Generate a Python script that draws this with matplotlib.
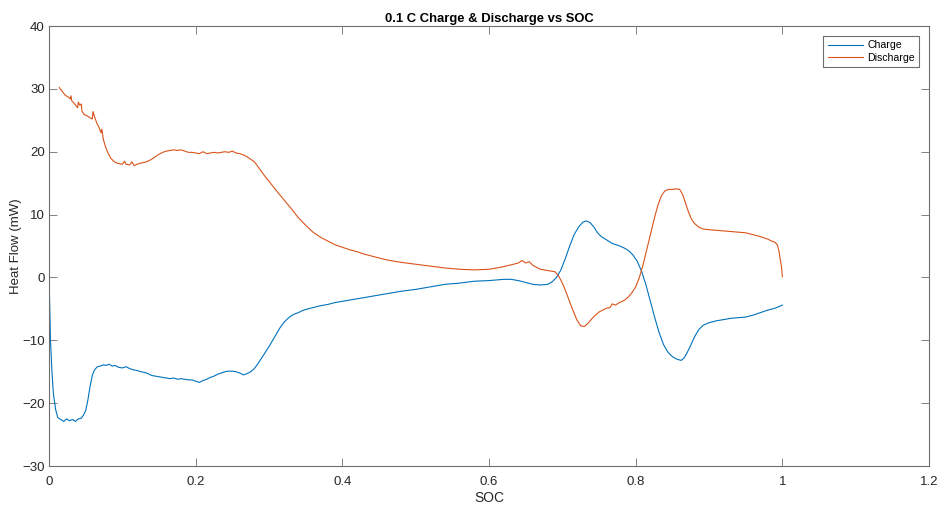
import matplotlib
matplotlib.use('Agg')
import matplotlib.pyplot as plt

# heat flow readings at 0.1 C, charge and discharge
charge_soc = [0.000, 0.001, 0.002, 0.004, 0.006, 0.009, 0.012, 0.016, 0.020, 0.024, 0.028, 0.032,
              0.036, 0.040, 0.044, 0.047, 0.050, 0.053, 0.056, 0.059, 0.062, 0.066, 0.070, 0.074,
              0.078, 0.082, 0.086, 0.090, 0.095, 0.100, 0.105, 0.110, 0.115, 0.120, 0.125, 0.130,
              0.135, 0.140, 0.145, 0.150, 0.155, 0.160, 0.165, 0.170, 0.175, 0.180, 0.185, 0.190,
              0.195, 0.200, 0.205, 0.210, 0.215, 0.220, 0.225, 0.230, 0.235, 0.240, 0.245, 0.250,
              0.255, 0.260, 0.265, 0.270, 0.275, 0.280, 0.285, 0.290, 0.295, 0.300, 0.305, 0.310,
              0.315, 0.320, 0.325, 0.330, 0.335, 0.340, 0.345, 0.350, 0.360, 0.370, 0.380, 0.390,
              0.400, 0.420, 0.440, 0.460, 0.480, 0.500, 0.520, 0.540, 0.560, 0.580, 0.600, 0.620,
              0.630, 0.640, 0.650, 0.660, 0.670, 0.680, 0.686, 0.692, 0.698, 0.704, 0.710, 0.716,
              0.722, 0.728, 0.733, 0.738, 0.743, 0.748, 0.753, 0.760, 0.768, 0.776, 0.784, 0.790,
              0.796, 0.802, 0.808, 0.814, 0.820, 0.826, 0.832, 0.838, 0.844, 0.850, 0.856, 0.862,
              0.866, 0.870, 0.875, 0.880, 0.886, 0.892, 0.900, 0.910, 0.920, 0.930, 0.940, 0.950,
              0.960, 0.970, 0.980, 0.990, 1.000]
charge_hf = [0.5, -5.0, -10.0, -15.0, -18.5, -21.0, -22.3, -22.6, -22.9, -22.5, -22.8, -22.6,
             -22.9, -22.5, -22.4, -21.9, -21.2, -19.5, -17.3, -15.6, -14.7, -14.2, -14.1, -13.9,
             -14.0, -13.8, -14.1, -14.0, -14.3, -14.4, -14.2, -14.5, -14.7, -14.8, -15.0, -15.1,
             -15.3, -15.6, -15.7, -15.8, -15.9, -16.0, -16.1, -16.0, -16.2, -16.1, -16.2, -16.3,
             -16.3, -16.5, -16.7, -16.4, -16.2, -15.9, -15.7, -15.4, -15.2, -15.0, -14.9, -14.9,
             -15.0, -15.2, -15.5, -15.3, -15.0, -14.5, -13.7, -12.8, -11.9, -11.0, -10.0, -9.0,
             -8.0, -7.2, -6.6, -6.1, -5.8, -5.6, -5.3, -5.1, -4.8, -4.5, -4.3, -4.0,
             -3.8, -3.4, -3.0, -2.6, -2.2, -1.9, -1.5, -1.1, -0.9, -0.6, -0.5, -0.3,
             -0.3, -0.5, -0.8, -1.1, -1.2, -1.1, -0.7, 0.0, 1.2, 3.0, 5.0, 6.8,
             8.0, 8.8, 9.0, 8.7, 8.0, 7.1, 6.5, 6.0, 5.4, 5.1, 4.7, 4.3,
             3.6, 2.6, 1.0, -1.2, -3.8, -6.4, -8.8, -10.7, -11.9, -12.6, -13.0, -13.2,
             -12.8, -12.0, -10.8, -9.5, -8.3, -7.6, -7.2, -6.9, -6.7, -6.5, -6.4, -6.3,
             -6.0, -5.6, -5.2, -4.9, -4.4]

discharge_soc = [0.014, 0.018, 0.022, 0.026, 0.029, 0.030, 0.031, 0.035, 0.039, 0.040, 0.042, 0.044,
                 0.045, 0.048, 0.052, 0.056, 0.059, 0.060, 0.062, 0.065, 0.068, 0.071, 0.072, 0.074,
                 0.077, 0.080, 0.084, 0.088, 0.092, 0.096, 0.100, 0.103, 0.105, 0.110, 0.113, 0.116,
                 0.120, 0.125, 0.130, 0.135, 0.140, 0.145, 0.150, 0.155, 0.160, 0.165, 0.170, 0.175,
                 0.180, 0.185, 0.190, 0.195, 0.200, 0.205, 0.210, 0.215, 0.220, 0.225, 0.230, 0.235,
                 0.240, 0.245, 0.250, 0.255, 0.260, 0.265, 0.270, 0.275, 0.280, 0.285, 0.290, 0.295,
                 0.300, 0.310, 0.320, 0.330, 0.340, 0.350, 0.360, 0.370, 0.380, 0.390, 0.400, 0.410,
                 0.420, 0.430, 0.440, 0.450, 0.460, 0.470, 0.480, 0.500, 0.520, 0.540, 0.560, 0.580,
                 0.600, 0.615, 0.630, 0.640, 0.645, 0.650, 0.655, 0.660, 0.665, 0.670, 0.680, 0.690,
                 0.695, 0.700, 0.705, 0.710, 0.715, 0.720, 0.725, 0.730, 0.735, 0.740, 0.745, 0.750,
                 0.755, 0.760, 0.765, 0.768, 0.772, 0.778, 0.785, 0.790, 0.795, 0.800, 0.805, 0.810,
                 0.815, 0.820, 0.825, 0.830, 0.835, 0.840, 0.845, 0.850, 0.855, 0.860, 0.864, 0.868,
                 0.872, 0.876, 0.880, 0.886, 0.892, 0.900, 0.910, 0.920, 0.930, 0.940, 0.950, 0.960,
                 0.970, 0.980, 0.985, 0.990, 0.993, 0.995, 0.997, 0.999, 1.000]
discharge_hf = [30.2, 29.6, 29.0, 28.7, 28.4, 28.9, 28.1, 27.6, 27.0, 27.9, 27.4, 27.6,
                26.4, 25.9, 25.7, 25.4, 25.2, 26.4, 25.6, 24.6, 23.9, 23.0, 23.6, 22.0,
                20.8, 19.9, 19.0, 18.5, 18.2, 18.1, 18.0, 18.5, 18.0, 17.9, 18.4, 17.8,
                18.0, 18.2, 18.3, 18.5, 18.8, 19.2, 19.6, 19.9, 20.1, 20.2, 20.3, 20.2,
                20.3, 20.1, 19.9, 19.9, 19.8, 19.7, 20.0, 19.7, 19.8, 19.9, 19.8, 19.9,
                20.0, 19.9, 20.1, 19.8, 19.7, 19.5, 19.2, 18.8, 18.4, 17.6, 16.8, 16.0,
                15.3, 13.8, 12.4, 11.0, 9.5, 8.3, 7.2, 6.4, 5.8, 5.2, 4.8, 4.4,
                4.1, 3.7, 3.4, 3.1, 2.8, 2.6, 2.4, 2.1, 1.8, 1.5, 1.3, 1.2,
                1.3, 1.6, 2.0, 2.3, 2.7, 2.3, 2.5, 1.9, 1.6, 1.3, 1.1, 0.9,
                0.2, -0.9, -2.3, -3.9, -5.4, -6.8, -7.7, -7.8, -7.3, -6.6, -6.0, -5.5,
                -5.2, -4.9, -4.8, -4.2, -4.4, -4.0, -3.6, -3.1, -2.4, -1.5, 0.0, 2.0,
                4.4, 6.8, 9.2, 11.4, 13.0, 13.8, 14.0, 14.0, 14.1, 14.0, 13.2, 11.8,
                10.4, 9.3, 8.6, 8.0, 7.7, 7.6, 7.5, 7.4, 7.3, 7.2, 7.1, 6.8,
                6.5, 6.1, 5.8, 5.6, 5.2, 4.4, 3.0, 1.5, 0.1]

x_ticks = [0, 0.2, 0.4, 0.6, 0.8, 1.0, 1.2]
x_labels = ['0', '0.2', '0.4', '0.6', '0.8', '1', '1.2']
y_ticks = [-30, -20, -10, 0, 10, 20, 30, 40]

plt.rcParams['font.family'] = ['Liberation Sans', 'DejaVu Sans']

fig = plt.figure(figsize=(9.39, 5.05), dpi=100)
ax = fig.add_axes([0.0522, 0.0772, 0.9372, 0.8713])

ax.plot(charge_soc, charge_hf, color='#0072BD', linewidth=0.8, label='Charge')
ax.plot(discharge_soc, discharge_hf, color='#D95319', linewidth=0.8, label='Discharge')

ax.set_xlim(0, 1.2)
ax.set_ylim(-30, 40)
ax.set_xticks(x_ticks)
ax.set_xticklabels(x_labels)
ax.set_yticks(y_ticks)

axis_grey = '#262626'
for sp in ax.spines.values():
    sp.set_color('#6e6e6e')
    sp.set_linewidth(0.8)
ax.tick_params(direction='in', length=6, width=0.6, color='#6e6e6e',
               top=True, right=True, labelsize=9.5, labelcolor=axis_grey)
ax.tick_params(axis='x', pad=7)
ax.tick_params(axis='y', pad=3)

ax.set_title('0.1 C Charge & Discharge vs SOC', fontsize=9.4, fontweight='bold', color='black', pad=3)
ax.set_xlabel('SOC', fontsize=10, color=axis_grey, labelpad=2)
ax.set_ylabel('Heat Flow (mW)', fontsize=9.5, color=axis_grey, labelpad=0)

leg = ax.legend(loc='upper right', fontsize=7.6, fancybox=False, framealpha=1,
                edgecolor='#6e6e6e', handlelength=3.4, borderaxespad=0.95,
                borderpad=0.4, labelspacing=0.25, handletextpad=0.35)
leg.get_frame().set_linewidth(0.8)

fig.savefig('out.png', dpi=100)
